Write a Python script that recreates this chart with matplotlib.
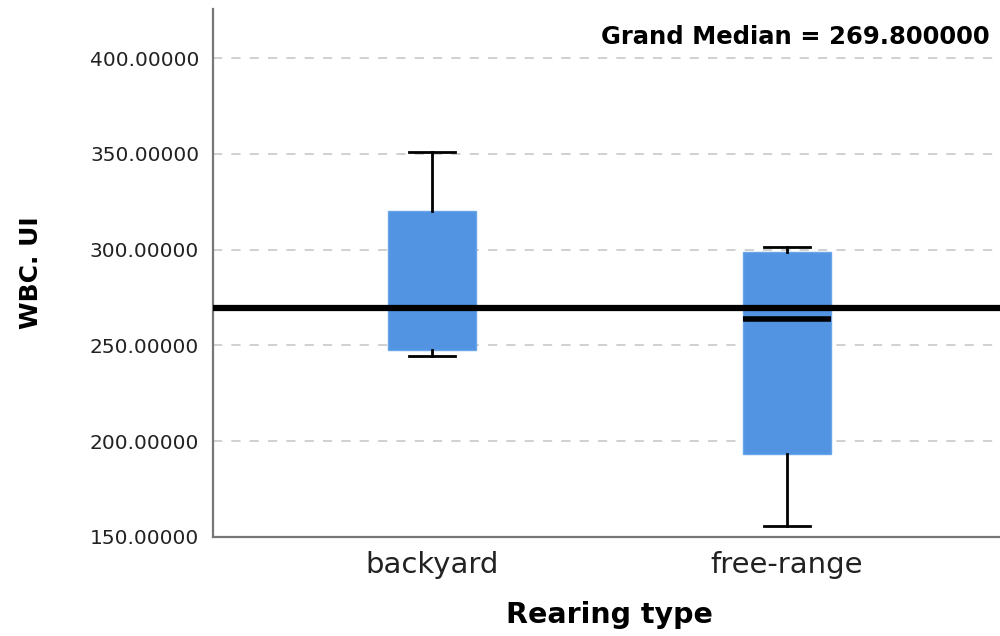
import numpy as np
import matplotlib
matplotlib.use('Agg')
import matplotlib.pyplot as plt

plt.rcParams['font.family'] = ['DejaVu Sans']

#%% DATA

groups = ['backyard', 'free-range']
whisker_low = [244.6, 155.7]
q1 = [247.6, 193.3]
medians = [269.8, 263.6]
q3 = [320.1, 298.9]
whisker_high = [351.0, 301.5]
grand_median = 269.8
yticks = [150, 200, 250, 300, 350, 400]

#%% PLOT

fig = plt.figure(figsize=(10, 6.36), dpi=100)
ax = fig.add_axes([0.213, 0.1557, 0.793, 0.830])

stats = []
for i, g in enumerate(groups):
    stats.append(dict(label=g, med=medians[i], q1=q1[i], q3=q3[i],
                      whislo=whisker_low[i], whishi=whisker_high[i], fliers=[]))

ax.bxp(stats, positions=range(len(groups)), widths=0.25, patch_artist=True,
       showfliers=False,
       boxprops=dict(facecolor='#5294e2', edgecolor='#6aa5ea', linewidth=1),
       medianprops=dict(color='black', linewidth=4, solid_capstyle='butt'),
       whiskerprops=dict(color='black', linewidth=2),
       capprops=dict(color='black', linewidth=2),
       capwidths=0.127, zorder=3)

# grand median reference line
ax.axhline(grand_median, color='black', linewidth=4.5, zorder=4)
fig.text(0.99, 1 - 37 / 636, 'Grand Median = %.6f' % grand_median,
         ha='right', va='center', fontsize=17.5, fontweight='bold')

ax.set_xlim(-0.617, 1.617)
ax.set_ylim(150, 425.6)
ax.set_yticks(yticks)
ax.set_yticklabels(['%.5f' % v for v in yticks], fontsize=14.5, color='#222222')
ax.set_xticks(range(len(groups)))
ax.set_xticklabels(groups, fontsize=21, color='#222222')
ax.tick_params(axis='both', length=0, pad=10)
ax.tick_params(axis='x', pad=10)

ax.yaxis.grid(True, linestyle=(0, (5.5, 5.5)), color='#c8c8c8', linewidth=1.2)
ax.set_axisbelow(True)

for s in ['top', 'right']:
    ax.spines[s].set_visible(False)
for s in ['left', 'bottom']:
    ax.spines[s].set_color('#777777')
    ax.spines[s].set_linewidth(1.6)

ax.set_xlabel('Rearing type', fontsize=20.5, fontweight='bold', labelpad=16)
ax.set_ylabel('WBC. UI', fontsize=18, fontweight='bold', labelpad=0)
ax.yaxis.set_label_coords(-0.214, 0.5)

fig.savefig('out.png', dpi=100)
